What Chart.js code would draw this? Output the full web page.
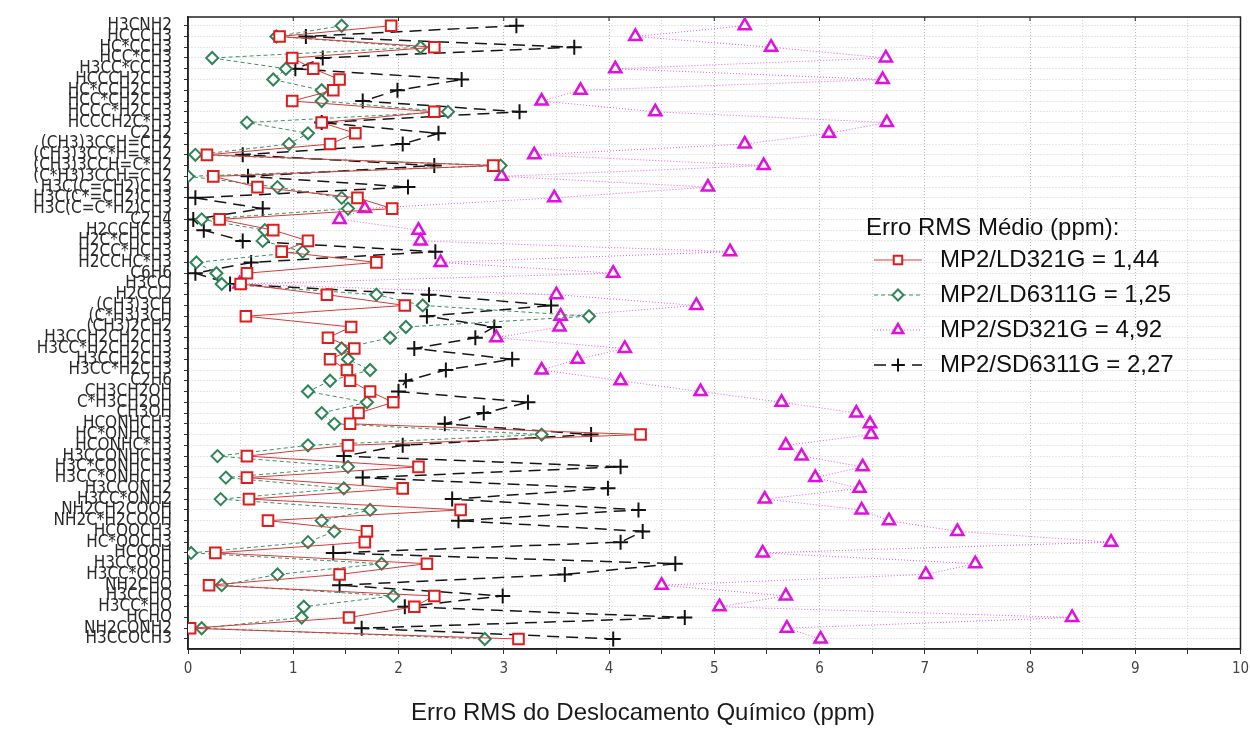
<!DOCTYPE html>
<html>
<head>
<meta charset="utf-8">
<title>Erro RMS do Deslocamento Químico</title>
<script src="https://cdn.jsdelivr.net/npm/chart.js@4.4.1/dist/chart.umd.min.js"></script>
<style>
    html, body { margin: 0; padding: 0; background: #fff; }
    #wrap { width: 1250px; height: 731px; }
</style>
</head>
<body>
<div id="wrap"><canvas id="rmsChart" width="1250" height="731"></canvas></div>
<script>
// Molecules (one row each, top to bottom)
const rowLabels = [
    "H3CNH2", "HCCCH3", "HC*CCH3", "HCC*CH3", "H3CC*CCH3",
    "HCCCH2CH3", "HC*CCH2CH3", "HCC*CH2CH3", "HCCC*H2CH3", "HCCCH2C*H3",
    "C2H2", "(CH3)3CCH=CH2", "(CH3)3CC*H=CH2", "(CH3)3CCH=C*H2", "(C*H3)3CCH=CH2",
    "H3C(C=CH2)CH3", "H3C(C*=CH2)CH3", "H3C(C=C*H2)CH3", "C2H4", "H2CCHCH3",
    "H2C*CHCH3", "H2CC*HCH3", "H2CCHC*H3", "C6H6", "H3CCl",
    "H2CCl2", "(CH3)3CH", "(C*H3)3CH", "(CH3)2CH2", "H3CCH2CH2CH3",
    "H3CC*H2CH2CH3", "H3CCH2CH3", "H3CC*H2CH3", "C2H6", "CH3CH2OH",
    "C*H3CH2OH", "CH3OH", "HCONHCH3", "HC*ONHCH3", "HCONHC*H3",
    "H3CCONHCH3", "H3C*CONHCH3", "H3CC*ONHCH3", "H3CCONH2", "H3CC*ONH2",
    "NH2CH2COOH", "NH2C*H2COOH", "HCOOCH3", "HC*OOCH3", "HCOOH",
    "H3CCOOH", "H3CC*OOH", "NH2CHO", "H3CCHO", "H3CC*HO",
    "HCHO", "NH2CONH2", "H3CCOCH3"
];

// RMS error per molecule (ppm)
const ld321G = [
    1.93, 0.87, 2.34, 0.99, 1.19, 1.44, 1.38, 0.99, 2.34, 1.27,
    1.59, 1.35, 0.18, 2.90, 0.24, 0.66, 1.61, 1.94, 0.30, 0.81,
    1.14, 0.89, 1.79, 0.56, 0.50, 1.32, 2.06, 0.55, 1.55, 1.33,
    1.58, 1.35, 1.51, 1.54, 1.73, 1.95, 1.62, 1.54, 4.30, 1.52,
    0.56, 2.19, 0.56, 2.04, 0.58, 2.59, 0.76, 1.70, 1.68, 0.26,
    2.27, 1.44, 0.20, 2.34, 2.15, 1.53, 0.02, 3.14
];
const ld6311G = [
    1.46, 0.84, 2.21, 0.23, 0.93, 0.81, 1.27, 1.27, 2.47, 0.56,
    1.14, 0.96, 0.07, 2.97, 0.00, 0.85, 1.46, 1.52, 0.13, 0.73,
    0.71, 1.09, 0.08, 0.27, 0.32, 1.79, 2.23, 3.81, 2.07, 1.92,
    1.46, 1.52, 1.73, 1.35, 1.14, 1.70, 1.27, 1.39, 3.36, 1.14,
    0.28, 1.52, 0.36, 1.48, 0.31, 1.73, 1.27, 1.39, 1.14, 0.03,
    1.84, 0.85, 0.32, 1.95, 1.10, 1.08, 0.13, 2.82
];
const sd321G = [
    5.29, 4.25, 5.54, 6.63, 4.06, 6.60, 3.73, 3.36, 4.44, 6.64,
    6.09, 5.29, 3.29, 5.47, 2.98, 4.94, 3.48, 1.68, 1.44, 2.19,
    2.21, 5.15, 2.40, 4.04, 0.49, 3.50, 4.83, 3.54, 3.53, 2.93,
    4.15, 3.70, 3.36, 4.11, 4.87, 5.64, 6.35, 6.48, 6.49, 5.68,
    5.83, 6.41, 5.96, 6.38, 5.48, 6.40, 6.66, 7.31, 8.77, 5.46,
    7.48, 7.01, 4.50, 5.68, 5.05, 8.40, 5.69, 6.01
];
const sd6311G = [
    3.12, 1.12, 3.67, 1.28, 1.02, 2.60, 1.99, 1.66, 3.15, 1.27,
    2.38, 2.04, 0.52, 2.34, 0.57, 2.09, 0.07, 0.71, 0.05, 0.15,
    0.52, 2.35, 0.60, 0.07, 0.40, 2.29, 3.45, 2.27, 2.91, 2.73,
    2.15, 3.08, 2.45, 2.07, 2.00, 3.23, 2.81, 2.44, 3.83, 2.04,
    1.48, 4.11, 1.66, 3.99, 2.51, 4.28, 2.57, 4.32, 4.11, 1.38,
    4.63, 3.58, 1.44, 2.99, 2.06, 4.72, 1.65, 4.04
];

const seriesNames = ["MP2/LD321G", "MP2/LD6311G", "MP2/SD321G", "MP2/SD6311G"];
const meanErrors = ["1,44", "1,25", "4,92", "2,27"];
const xTickValues = [0, 1, 2, 3, 4, 5, 6, 7, 8, 9, 10];

const legendTitle = "Erro RMS Médio (ppm):";
const xAxisTitle = "Erro RMS do Deslocamento Químico (ppm)";

const narrowFont = "'Liberation Sans Narrow', 'DejaVu Sans Condensed', sans-serif";
const plainFont = "'Liberation Sans', Arial, sans-serif";

function toPoints(values) {
    return values.map((v, i) => ({ x: v, y: i }));
}

// Datasets
const datasets = [
    {
        label: seriesNames[0],
        data: toPoints(ld321G),
        borderColor: "#d43a3a",
        borderWidth: 1,
        pointStyle: "rect",
        pointRadius: 7.5,
        pointBorderWidth: 2,
        pointBorderColor: "#e01b1b",
        pointBackgroundColor: "#ffffff",
        legendRadius: 6,
    },
    {
        label: seriesNames[1],
        data: toPoints(ld6311G),
        borderColor: "#3d8f63",
        borderWidth: 1,
        borderDash: [4, 3],
        pointStyle: "rectRot",
        pointRadius: 6,
        pointBorderWidth: 2,
        pointBorderColor: "#2f8457",
        pointBackgroundColor: "#ffffff",
        legendRadius: 5.5,
    },
    {
        label: seriesNames[2],
        data: toPoints(sd321G),
        borderColor: "#e455e4",
        borderWidth: 1,
        borderDash: [1, 2],
        pointStyle: "triangle",
        pointRadius: 7,
        pointBorderWidth: 2.5,
        pointBorderColor: "#e010e0",
        pointBackgroundColor: "#ffffff",
        legendRadius: 6,
    },
    {
        label: seriesNames[3],
        data: toPoints(sd6311G),
        borderColor: "#151515",
        borderWidth: 1.5,
        borderDash: [12, 7],
        pointStyle: "cross",
        pointRadius: 7.5,
        pointBorderWidth: 2,
        pointBorderColor: "#111111",
        pointBackgroundColor: "#111111",
        legendRadius: 6.5,
    },
];

// Frame, axis title and legend drawn on top
const overlayPlugin = {
    id: "overlay",
    beforeDatasetsDraw(chart) {
        const { ctx, chartArea: a, scales } = chart;
        ctx.save();
        ctx.strokeStyle = "#222";
        ctx.lineWidth = 1.5;
        ctx.strokeRect(a.left, a.top, a.right - a.left, a.bottom - a.top);
        // little ticks on the top edge
        ctx.lineWidth = 1;
        xTickValues.forEach((v) => {
            const x = scales.x.getPixelForValue(v);
            ctx.beginPath();
            ctx.moveTo(x, a.top);
            ctx.lineTo(x, a.top + 4);
            ctx.stroke();
        });
        ctx.restore();
    },
    afterDraw(chart) {
        const { ctx } = chart;
        ctx.save();

        // x axis title
        ctx.fillStyle = "#1a1a1a";
        ctx.font = "24px " + plainFont;
        ctx.textAlign = "center";
        ctx.textBaseline = "middle";
        ctx.fillText(xAxisTitle, 643, 713);

        // legend
        ctx.textAlign = "left";
        ctx.font = "24px " + plainFont;
        ctx.fillStyle = "#111";
        ctx.fillText(legendTitle, 866, 228);

        const rowsY = [260, 295, 330, 365];
        chart.data.datasets.forEach((ds, i) => {
            const y = rowsY[i];
            ctx.save();
            ctx.strokeStyle = ds.borderColor;
            ctx.lineWidth = ds.borderWidth;
            ctx.setLineDash(ds.borderDash || []);
            ctx.beginPath();
            ctx.moveTo(874, y);
            ctx.lineTo(922, y);
            ctx.stroke();
            ctx.setLineDash([]);
            ctx.strokeStyle = ds.pointBorderColor;
            ctx.fillStyle = ds.pointBackgroundColor;
            ctx.lineWidth = ds.pointBorderWidth;
            Chart.helpers.drawPoint(ctx, {
                pointStyle: ds.pointStyle,
                radius: ds.legendRadius,
                borderWidth: ds.pointBorderWidth,
                rotation: 0,
            }, 898, y);
            ctx.restore();

            ctx.fillStyle = "#111";
            ctx.fillText(`${seriesNames[i]} = ${meanErrors[i]}`, 940, y);
        });

        ctx.restore();
    },
};

const ctx = document.getElementById("rmsChart").getContext("2d");
const rmsChart = new Chart(ctx, {
    type: "line",
    data: { datasets: datasets },
    plugins: [overlayPlugin],
    options: {
        responsive: false,
        devicePixelRatio: 1,
        animation: false,
        events: [],
        layout: { padding: { left: 0, right: 4, top: 17, bottom: 0 } },
        elements: { line: { tension: 0, fill: false } },
        plugins: {
            legend: { display: false },
            tooltip: { enabled: false },
        },
        scales: {
            x: {
                type: "linear",
                position: "bottom",
                min: 0,
                max: 10,
                afterBuildTicks: (scale) => {
                    const ticks = [];
                    for (let v = 0; v <= 10; v += 0.5) ticks.push({ value: v });
                    scale.ticks = ticks;
                },
                afterFit: (scale) => {
                    scale.height = 82;
                    scale.paddingLeft = 0;
                    scale.paddingRight = 0;
                },
                ticks: {
                    autoSkip: false,
                    maxRotation: 0,
                    padding: 6,
                    color: "#444",
                    font: { family: narrowFont, size: 15 },
                    callback: (v) => (xTickValues.includes(v) ? String(v) : ""),
                },
                grid: {
                    color: (c) => (c.tick && Number.isInteger(c.tick.value) ? "#b8b8b8" : "#d6d6d6"),
                    lineWidth: 1,
                    tickLength: 5,
                    tickColor: "#333",
                },
                border: { display: true, color: "#222", width: 1.5, dash: [1, 2] },
            },
            y: {
                type: "linear",
                reverse: true,
                min: -0.81,
                max: 57.93,
                afterBuildTicks: (scale) => {
                    scale.ticks = rowLabels.map((_, i) => ({ value: i }));
                },
                afterFit: (scale) => {
                    scale.width = 188;
                    scale.paddingTop = 0;
                    scale.paddingBottom = 0;
                },
                ticks: {
                    autoSkip: false,
                    padding: 12,
                    color: "#2a2a2a",
                    font: { family: narrowFont, size: 17 },
                    callback: (v) => rowLabels[v],
                },
                grid: {
                    color: "#cdcdcd",
                    lineWidth: 1,
                    tickLength: 4,
                    tickColor: "#333",
                },
                border: { display: true, color: "#222", width: 1.5, dash: [1, 2] },
            },
        },
    },
});
</script>
</body>
</html>
